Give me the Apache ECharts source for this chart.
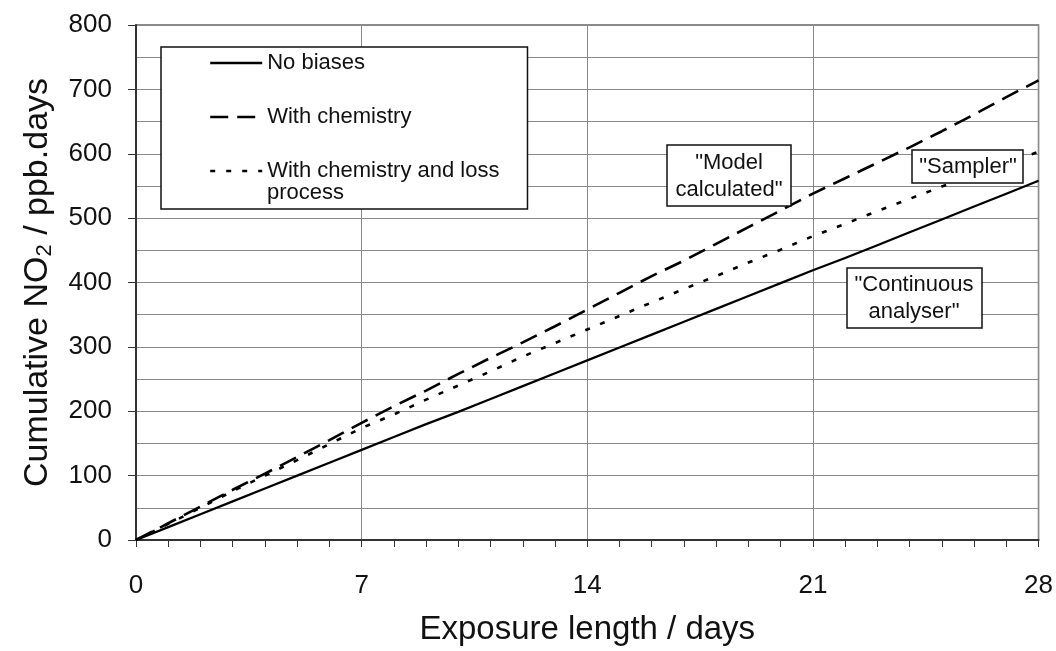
<!DOCTYPE html>
<html>
<head>
<meta charset="utf-8">
<script src="https://cdn.jsdelivr.net/npm/echarts@6/dist/echarts.min.js"></script>
<style>
html,body{margin:0;padding:0;background:#fff;}
#chart{width:1056px;height:651px;}
</style>
</head>
<body>
<div id="chart"></div>
<script>
// ---- data ----
const days = [0,1,2,3,4,5,6,7,8,9,10,11,12,13,14,15,16,17,18,19,20,21,22,23,24,25,26,27,28];
const noBiases = [0,20,40,60,80,100,120,140,160,180,199,219,239,259,279,299,319,339,359,379,399,419,438,458,478,498,518,538,558];
const withChemistry = [0,26,52,78,103,129,155,182,208,232,258,283,307,332,358,384,410,434,460,486,512,538,562,586,610,635,661,688,714];
const withChemLoss = [0,25,50,76,100,124,149,174,195,218,240,262,285,306,327,348,369,390,410,431,451,472,491,511,530,549,567,585,603];
const seriesNames = ['No biases','With chemistry','With chemistry and loss'];
const xTicks = [0,7,14,21,28];
const yTicks = [0,100,200,300,400,500,600,700,800];

const FONT = '"Liberation Sans", Arial, Helvetica, sans-serif';
const pair = arr => days.map((d,i)=>[d, arr[i]]);

const chart = echarts.init(document.getElementById('chart'), null, {renderer:'canvas'});
const option = {
  animation:false,
  backgroundColor:'#fff',
  grid:{left:136,right:17,top:25,bottom:106,show:true,borderColor:'#666',borderWidth:1.5,backgroundColor:'transparent'},
  legend:{
    orient:'vertical', left:161, top:47,
    padding:[5,28,27,48],
    itemWidth:52, itemHeight:14, itemGap:32,
    borderColor:'#111', borderWidth:1.5, backgroundColor:'#fff',
    itemStyle:{opacity:0},
    lineStyle:{width:2.4,color:'#000'},
    textStyle:{fontSize:22,color:'#111',fontFamily:FONT},
    data:seriesNames
  },
  xAxis:{
    type:'value', min:xTicks[0], max:xTicks[xTicks.length-1], interval:7,
    name:'Exposure length / days', nameLocation:'middle', nameGap:73,
    nameTextStyle:{fontSize:33,color:'#111',fontFamily:FONT},
    axisLine:{lineStyle:{color:'#333',width:2}},
    axisTick:{show:true,length:7,lineStyle:{color:'#333',width:1}},
    minorTick:{show:true,splitNumber:7,length:7,lineStyle:{color:'#333',width:1}},
    axisLabel:{fontSize:26,color:'#111',fontFamily:FONT,margin:33},
    splitLine:{show:true,lineStyle:{color:'#8a8a8a',width:1}}
  },
  yAxis:{
    type:'value', min:yTicks[0], max:yTicks[yTicks.length-1], interval:100,
    name:'Cumulative NO{sub|2} / ppb.days', nameLocation:'middle', nameGap:80,
    nameTextStyle:{fontSize:34,color:'#111',fontFamily:FONT,
      rich:{sub:{fontSize:22,color:'#111',fontFamily:FONT,verticalAlign:'bottom',padding:[14,0,0,0]}}},
    axisLine:{show:true,lineStyle:{color:'#333',width:2}},
    axisTick:{show:true,length:8,lineStyle:{color:'#333',width:1}},
    minorTick:{show:false,splitNumber:2},
    minorSplitLine:{show:true,lineStyle:{color:'#8a8a8a',width:1}},
    axisLabel:{fontSize:26,color:'#111',fontFamily:FONT,margin:24},
    splitLine:{show:true,lineStyle:{color:'#8a8a8a',width:1}}
  },
  series:[
    {name:seriesNames[0],type:'line',data:pair(noBiases),showSymbol:false,symbol:'none',
      itemStyle:{color:'#000'},lineStyle:{color:'#000',width:2.2,type:'solid'},z:5},
    {name:seriesNames[1],type:'line',data:pair(withChemistry),showSymbol:false,symbol:'none',
      itemStyle:{color:'#000'},lineStyle:{color:'#000',width:2.6,type:[18,9]},z:5},
    {name:seriesNames[2],type:'line',data:pair(withChemLoss),showSymbol:false,symbol:'none',
      itemStyle:{color:'#000'},lineStyle:{color:'#000',width:2.6,type:[5,11]},z:5}
  ],
  graphic:[
    {type:'text',left:267,top:182,z:100,style:{text:'process',font:'22px '+FONT,fill:'#111'}},
    {type:'rect',z:100,shape:{x:667,y:145,width:124,height:61},style:{fill:'#fff',stroke:'#111',lineWidth:1.5}},
    {type:'text',z:101,style:{x:729,y:176,text:'"Model\ncalculated"',font:'22px '+FONT,fill:'#111',align:'center',verticalAlign:'middle',lineHeight:27}},
    {type:'rect',z:100,shape:{x:912,y:150,width:111,height:33},style:{fill:'#fff',stroke:'#111',lineWidth:1.5}},
    {type:'text',z:101,style:{x:968,y:167,text:'"Sampler"',font:'22px '+FONT,fill:'#111',align:'center',verticalAlign:'middle'}},
    {type:'rect',z:100,shape:{x:847,y:268,width:135,height:60},style:{fill:'#fff',stroke:'#111',lineWidth:1.5}},
    {type:'text',z:101,style:{x:914,y:298,text:'"Continuous\nanalyser"',font:'22px '+FONT,fill:'#111',align:'center',verticalAlign:'middle',lineHeight:27}}
  ]
};
chart.setOption(option);
</script>
</body>
</html>
